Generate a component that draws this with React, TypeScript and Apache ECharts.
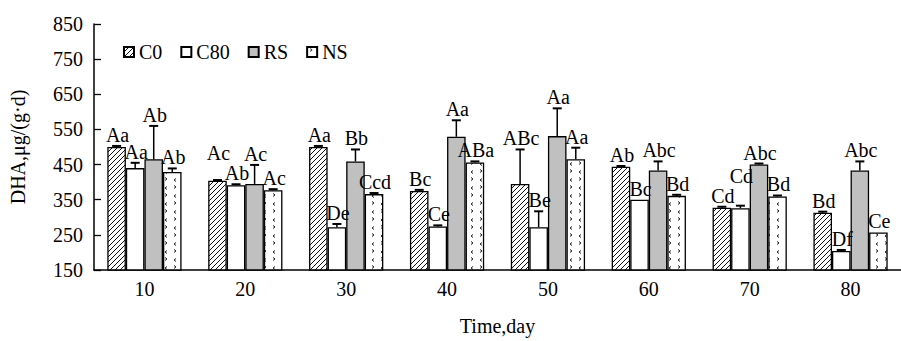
import React, { useEffect, useRef } from "react";
import * as echarts from "echarts";

const categories = ["10", "20", "30", "40", "50", "60", "70", "80"];
const seriesNames = ["C0", "C80", "RS", "NS"];

const c0Values = [500, 404, 500, 375, 395, 444, 327, 313];
const c0Errors = [3, 2, 3, 3, 98, 2, 3, 3];
const c0Labels = ["Aa", "Ac", "Aa", "Bc", "ABc", "Ab", "Cd", "Bd"];

const c80Values = [440, 391, 272, 274, 272, 350, 326, 204];
const c80Errors = [15, 3, 9, 3, 45, 0, 7, 3];
const c80Labels = ["Aa", "Ab", "De", "Ce", "Be", "Bc", "Cd", "Df"];

const rsValues = [465, 395, 459, 529, 531, 433, 450, 433];
const rsErrors = [95, 54, 34, 47, 79, 26, 3, 26];
const rsLabels = ["Ab", "Ac", "Bb", "Aa", "Aa", "Abc", "Abc", "Abc"];

const nsValues = [429, 377, 366, 456, 465, 361, 359, 257];
const nsErrors = [10, 3, 3, 3, 33, 3, 3, 0];
const nsLabels = ["Ab", "Ac", "Ccd", "ABa", "Aa", "Bd", "Bd", "Ce"];

const yTicks = { min: 150, max: 850, interval: 100 };

const FONT = "Liberation Serif";

function hatchPattern() {
  const c = document.createElement("canvas");
  c.width = 5;
  c.height = 5;
  const ctx = c.getContext("2d")!;
  ctx.fillStyle = "#fff";
  ctx.fillRect(0, 0, 5, 5);
  ctx.strokeStyle = "#111";
  ctx.lineWidth = 1;
  ctx.beginPath();
  ctx.moveTo(-1, 6);
  ctx.lineTo(6, -1);
  ctx.moveTo(-1, 1);
  ctx.lineTo(1, -1);
  ctx.moveTo(4, 6);
  ctx.lineTo(6, 4);
  ctx.stroke();
  return { image: c, repeat: "repeat" };
}

function dotPattern() {
  const c = document.createElement("canvas");
  c.width = 18;
  c.height = 16;
  const ctx = c.getContext("2d")!;
  ctx.fillStyle = "#fff";
  ctx.fillRect(0, 0, 18, 16);
  ctx.strokeStyle = "#222";
  ctx.lineWidth = 1;
  ctx.beginPath();
  ctx.moveTo(3, 1.5);
  ctx.lineTo(5, 3);
  ctx.lineTo(3, 4.5);
  ctx.moveTo(12, 9.5);
  ctx.lineTo(14, 11);
  ctx.lineTo(12, 12.5);
  ctx.moveTo(14, 2.5);
  ctx.lineTo(12, 4);
  ctx.lineTo(14, 5.5);
  ctx.moveTo(5, 10.5);
  ctx.lineTo(3, 12);
  ctx.lineTo(5, 13.5);
  ctx.stroke();
  return { image: c, repeat: "repeat" };
}

export default function App() {
  const ref = useRef<HTMLDivElement>(null);

  useEffect(() => {
    if (!ref.current) return;
    const chart = echarts.init(ref.current, undefined, { renderer: "svg" });

    const values = [c0Values, c80Values, rsValues, nsValues];
    const errors = [c0Errors, c80Errors, rsErrors, nsErrors];
    const labels = [c0Labels, c80Labels, rsLabels, nsLabels];
    const colors: any[] = [hatchPattern(), "#ffffff", "#c0c0c0", dotPattern()];
    const barFrac = 0.184;
    const LABEL_H = 20;

    const barSeries = seriesNames.map((name, k) => ({
      name,
      type: "bar",
      data: values[k],
      barWidth: "18.4%",
      barGap: "0%",
      itemStyle: { color: colors[k], borderColor: "#000", borderWidth: 1.3 },
    }));

    const errSeries = seriesNames.map((name, k) => ({
      name: name + "_err",
      type: "custom",
      data: values[k].map((v, i) => [i, v, errors[k][i]]),
      z: 5,
      renderItem: (params: any, api: any) => {
        const i = api.value(0);
        const v = api.value(1);
        const e = api.value(2);
        const base = api.coord([i, v]);
        const top = api.coord([i, v + e]);
        const bw = api.size([1, 0])[0] * barFrac;
        const x = base[0] + (k - 1.5) * bw;
        const capY = (kk: number) => api.coord([i, values[kk][i] + errors[kk][i]])[1];
        // raise a label above its neighbour's when both would sit at nearly the same height
        let ly = top[1] - 1;
        [k - 1, k + 1].forEach((nb) => {
          if (nb < 0 || nb > 3) return;
          const yn = capY(nb);
          if (Math.abs(yn - top[1]) < 10 && top[1] < yn) {
            ly = Math.min(ly, yn - 1 - LABEL_H);
          }
        });
        const children: any[] = [];
        if (e > 0) {
          children.push({
            type: "line",
            shape: { x1: x, y1: base[1], x2: x, y2: top[1] },
            style: { stroke: "#000", lineWidth: 1.5 },
          });
          children.push({
            type: "line",
            shape: { x1: x - 4.5, y1: top[1], x2: x + 4.5, y2: top[1] },
            style: { stroke: "#000", lineWidth: 2 },
          });
        }
        children.push({
          type: "text",
          style: {
            text: labels[k][params.dataIndex],
            x: x + 1,
            y: ly,
            align: "center",
            verticalAlign: "bottom",
            fill: "#000",
            fontFamily: FONT,
            fontSize: 20,
          },
        });
        return { type: "group", children };
      },
    }));

    chart.setOption({
      animation: false,
      backgroundColor: "#fff",
      textStyle: { fontFamily: FONT, color: "#000" },
      grid: { left: 94, right: -7, top: 24, bottom: 56 },
      legend: {
        data: seriesNames,
        left: 118,
        top: 37,
        icon: "rect",
        itemWidth: 10,
        itemHeight: 10,
        itemGap: 18,
        textStyle: { fontFamily: FONT, fontSize: 20, color: "#000" },
      },
      xAxis: {
        type: "category",
        data: categories,
        name: "Time,day",
        nameLocation: "middle",
        nameGap: 46,
        nameTextStyle: { fontFamily: FONT, fontSize: 20, color: "#000" },
        axisLine: { lineStyle: { color: "#000", width: 1.5 } },
        axisTick: { inside: true, length: 7, lineStyle: { color: "#000", width: 1.3 } },
        axisLabel: { fontFamily: FONT, fontSize: 20, color: "#000", margin: 9 },
      },
      yAxis: {
        type: "value",
        min: yTicks.min,
        max: yTicks.max,
        interval: yTicks.interval,
        name: "DHA,μg/(g·d)",
        nameLocation: "middle",
        nameGap: 66,
        nameTextStyle: { fontFamily: FONT, fontSize: 20, color: "#000" },
        axisLine: { show: true, lineStyle: { color: "#000", width: 1.5 } },
        axisTick: { show: true, inside: true, length: 7, lineStyle: { color: "#000", width: 1.3 } },
        axisLabel: { fontFamily: FONT, fontSize: 20, color: "#000", margin: 11 },
        splitLine: { show: false },
      },
      series: [...barSeries, ...errSeries],
    });

    return () => chart.dispose();
  }, []);

  return (
    <div
      ref={ref}
      style={{ position: "fixed", left: 0, top: 0, width: 901, height: 341, background: "#fff" }}
    />
  );
}
